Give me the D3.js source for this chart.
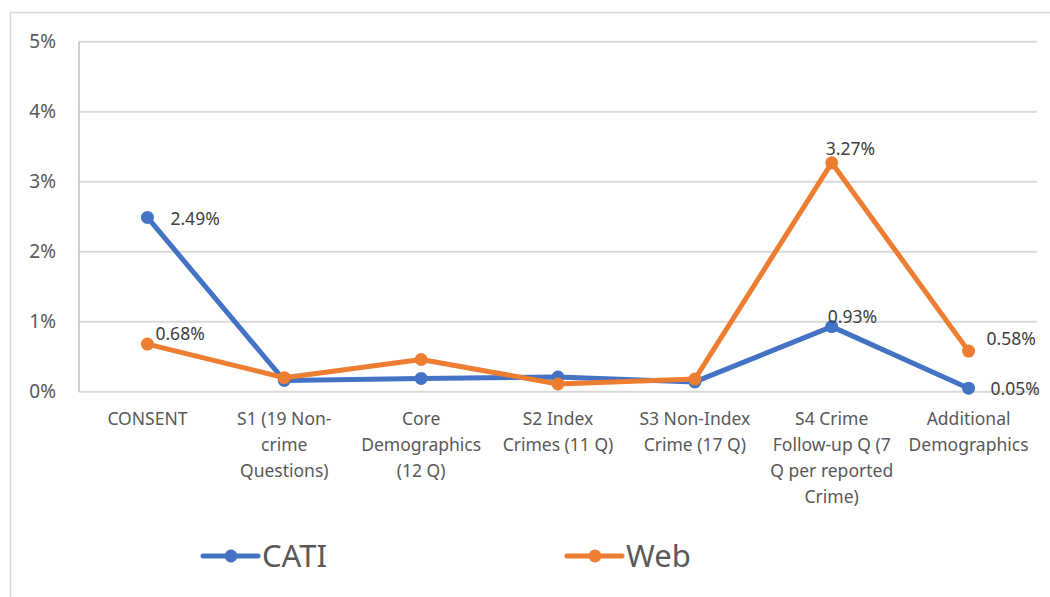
<!DOCTYPE html>
<html>
<head>
<meta charset="utf-8">
<script src="https://cdn.jsdelivr.net/npm/d3@7"></script>
<style>
  body { margin: 0; background: #fff; }
  svg { display: block; font-family: "Noto Sans", "Open Sans", sans-serif; }
</style>
</head>
<body>
<div id="chart"></div>
<script>
// categories (each entry is the wrapped lines of the tick label)
const categories = [
    ["CONSENT"],
    ["S1 (19 Non-", "crime", "Questions)"],
    ["Core", "Demographics", "(12 Q)"],
    ["S2 Index", "Crimes (11 Q)"],
    ["S3 Non-Index", "Crime (17 Q)"],
    ["S4 Crime", "Follow-up Q (7", "Q per reported", "Crime)"],
    ["Additional", "Demographics"]
];
const seriesNames = ["CATI", "Web"];
const cati = [0.0249, 0.0016, 0.0019, 0.0021, 0.0014, 0.0093, 0.0005];
const web = [0.0068, 0.0020, 0.0046, 0.0011, 0.0018, 0.0327, 0.0058];
const yTicks = [0, 0.01, 0.02, 0.03, 0.04, 0.05];

// which points carry a data label, and where the label sits relative to the point
const labelSpots = [
    {series: 0, index: 0, dx: 23, dy: 8},
    {series: 1, index: 0, dx: 8, dy: -4},
    {series: 1, index: 5, dx: -6, dy: -8},
    {series: 0, index: 5, dx: -4, dy: -4},
    {series: 1, index: 6, dx: 18, dy: -6},
    {series: 0, index: 6, dx: 22, dy: 7}
];

const width = 1050, height = 597;
const colors = ["#4472C4", "#ED7D31"];
const plot = {left: 79, right: 1037, top: 41.7, bottom: 391.7};

const svg = d3.select("#chart")
    .append("svg")
    .attr("width", width)
    .attr("height", height);

// chart frame (cropped at right and bottom like the original)
svg.append("rect")
    .attr("x", 10.5)
    .attr("y", 12.5)
    .attr("width", 1060)
    .attr("height", 620)
    .attr("fill", "none")
    .attr("stroke", "#D9D9D9")
    .attr("stroke-width", 1.5);

const x = d3.scalePoint()
    .domain(d3.range(categories.length))
    .range([plot.left, plot.right])
    .padding(0.5);

const y = d3.scaleLinear()
    .domain([0, 0.05])
    .range([plot.bottom, plot.top]);

// gridlines
svg.append("g")
    .selectAll("line")
    .data(yTicks)
    .enter()
    .append("line")
    .attr("x1", plot.left)
    .attr("x2", plot.right)
    .attr("y1", d => y(d))
    .attr("y2", d => y(d))
    .attr("stroke", "#D9D9D9")
    .attr("stroke-width", 2);

// left axis line
svg.append("line")
    .attr("x1", plot.left)
    .attr("x2", plot.left)
    .attr("y1", plot.top)
    .attr("y2", plot.bottom)
    .attr("stroke", "#BFBFBF")
    .attr("stroke-width", 1.5);

// y axis labels
const yAxis = svg.append("g")
    .attr("transform", `translate(${plot.left},0)`)
    .call(d3.axisLeft(y).tickValues(yTicks).tickFormat(d3.format(".0%")).tickSize(0).tickPadding(23));
yAxis.select(".domain").remove();
yAxis.selectAll("text")
    .attr("fill", "#595959")
    .style("font-size", "19px")
    .style("font-family", "'Noto Sans', sans-serif");

// x axis labels (multi-line)
const xLabels = svg.append("g")
    .selectAll("text")
    .data(categories)
    .enter()
    .append("text")
    .attr("x", (d, i) => x(i))
    .attr("y", 425)
    .attr("text-anchor", "middle")
    .attr("fill", "#595959")
    .style("font-size", "17.5px");
xLabels.selectAll("tspan")
    .data((d, i) => d.map(t => ({t: t, i: i})))
    .enter()
    .append("tspan")
    .attr("x", d => x(d.i))
    .attr("dy", (d, j) => j === 0 ? 0 : 26)
    .text(d => d.t);

// lines and markers
const allSeries = [cati, web];
const line = d3.line()
    .x((d, i) => x(i))
    .y(d => y(d));

allSeries.forEach((values, s) => {
    svg.append("path")
        .datum(values)
        .attr("d", line)
        .attr("fill", "none")
        .attr("stroke", colors[s])
        .attr("stroke-width", 5)
        .attr("stroke-linejoin", "round");
    svg.append("g")
        .selectAll("circle")
        .data(values)
        .enter()
        .append("circle")
        .attr("cx", (d, i) => x(i))
        .attr("cy", d => y(d))
        .attr("r", 6.5)
        .attr("fill", colors[s]);
});

// data labels
svg.append("g")
    .selectAll("text")
    .data(labelSpots)
    .enter()
    .append("text")
    .attr("x", d => x(d.index) + d.dx)
    .attr("y", d => y(allSeries[d.series][d.index]) + d.dy)
    .attr("fill", "#404040")
    .style("font-size", "17.5px")
    .text(d => d3.format(".2%")(allSeries[d.series][d.index]));

// legend
const legendX = [203, 567];
const legend = svg.append("g")
    .selectAll("g")
    .data(seriesNames)
    .enter()
    .append("g")
    .attr("transform", (d, i) => `translate(${legendX[i]},556)`);
legend.append("line")
    .attr("x1", 0)
    .attr("x2", 55)
    .attr("stroke", (d, i) => colors[i])
    .attr("stroke-width", 5)
    .attr("stroke-linecap", "round");
legend.append("circle")
    .attr("cx", 28)
    .attr("r", 6.5)
    .attr("fill", (d, i) => colors[i]);
legend.append("text")
    .attr("x", 59)
    .attr("y", 11)
    .attr("fill", "#595959")
    .style("font-size", "31px")
    .text(d => d);
</script>
</body>
</html>
